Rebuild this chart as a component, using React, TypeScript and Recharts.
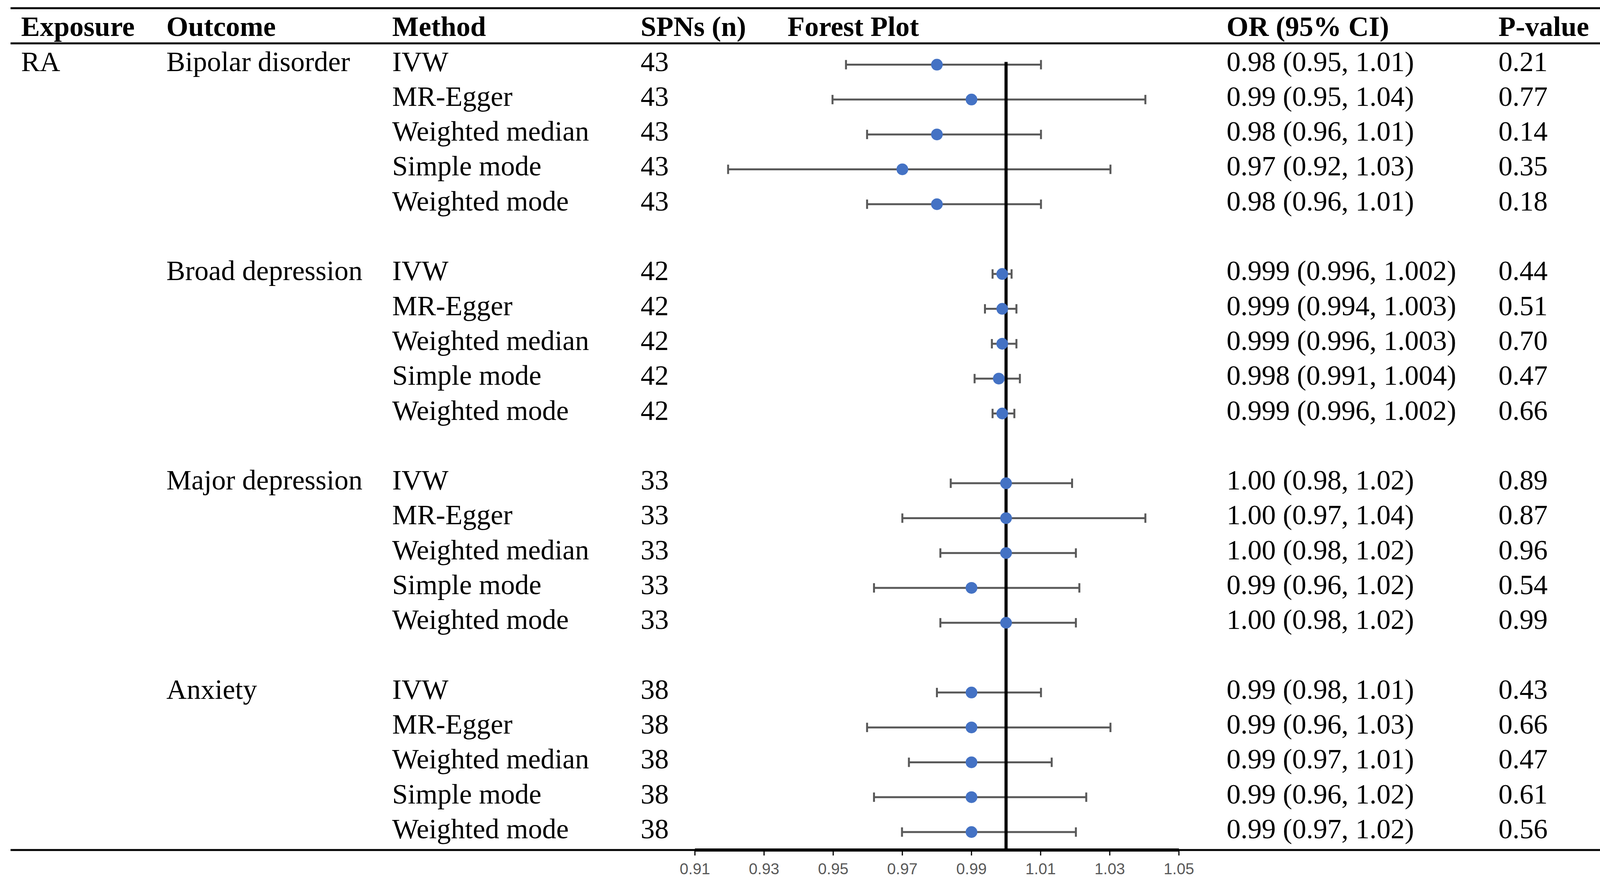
import React from 'react';
import {
  ScatterChart, Scatter, XAxis, YAxis, ErrorBar, ReferenceLine,
} from 'recharts';

const W = 4171;
const H = 2263;
const SERIF = "'Times New Roman', 'Liberation Serif', serif";

const exposure = 'RA';
const outcomes = ['Bipolar disorder', 'Broad depression', 'Major depression', 'Anxiety'];
const methods = ['IVW', 'MR-Egger', 'Weighted median', 'Simple mode', 'Weighted mode'];
const snps = [43, 42, 33, 38];

// point estimates and CI bounds as drawn in the forest plot
const orPoint = [
  [0.98, 0.99, 0.98, 0.97, 0.98],
  [0.9989, 0.9989, 0.9989, 0.9979, 0.9989],
  [1.0, 1.0, 1.0, 0.99, 1.0],
  [0.99, 0.99, 0.99, 0.99, 0.99],
];
const ciLow = [
  [0.9537, 0.9498, 0.9598, 0.9196, 0.9598],
  [0.9961, 0.9939, 0.9959, 0.9909, 0.9961],
  [0.984, 0.970, 0.981, 0.9618, 0.981],
  [0.98, 0.9598, 0.9719, 0.9618, 0.9699],
];
const ciHigh = [
  [1.0101, 1.0403, 1.0101, 1.0302, 1.0101],
  [1.0016, 1.0030, 1.0030, 1.0040, 1.0024],
  [1.0191, 1.0403, 1.0202, 1.0212, 1.0202],
  [1.0101, 1.0302, 1.0132, 1.0232, 1.0202],
];

const orText = [
  ['0.98 (0.95, 1.01)', '0.99 (0.95, 1.04)', '0.98 (0.96, 1.01)', '0.97 (0.92, 1.03)', '0.98 (0.96, 1.01)'],
  ['0.999 (0.996, 1.002)', '0.999 (0.994, 1.003)', '0.999 (0.996, 1.003)', '0.998 (0.991, 1.004)', '0.999 (0.996, 1.002)'],
  ['1.00 (0.98, 1.02)', '1.00 (0.97, 1.04)', '1.00 (0.98, 1.02)', '0.99 (0.96, 1.02)', '1.00 (0.98, 1.02)'],
  ['0.99 (0.98, 1.01)', '0.99 (0.96, 1.03)', '0.99 (0.97, 1.01)', '0.99 (0.96, 1.02)', '0.99 (0.97, 1.02)'],
];
const pValues = [
  ['0.21', '0.77', '0.14', '0.35', '0.18'],
  ['0.44', '0.51', '0.70', '0.47', '0.66'],
  ['0.89', '0.87', '0.96', '0.54', '0.99'],
  ['0.43', '0.66', '0.47', '0.61', '0.56'],
];

const xTicks = [0.91, 0.93, 0.95, 0.97, 0.99, 1.01, 1.03, 1.05];
const headers = ['Exposure', 'Outcome', 'Method', 'SPNs (n)', 'Forest Plot', 'OR (95% CI)', 'P-value'];

// column x positions
const COL = { exp: 54, out: 426, meth: 1004, snp: 1640, forest: 2016, or: 3140, p: 3836 };
const headerX = [COL.exp, COL.out, COL.meth, COL.snp, COL.forest, COL.or, COL.p];

const rows: any[] = [];
outcomes.forEach((o, g) => {
  methods.forEach((m, k) => {
    rows.push({
      row: g * 6 + k,
      g, k,
      or: orPoint[g][k],
      err: [orPoint[g][k] - ciLow[g][k], ciHigh[g][k] - orPoint[g][k]],
    });
  });
});
const rowTicks = rows.map(r => r.row);
const byRow: Record<number, any> = {};
rows.forEach(r => { byRow[r.row] = r; });

function RowTick(props: any) {
  const { y, payload } = props;
  const r = byRow[payload.value];
  if (!r) return <g />;
  const ty = y + 16;
  const t = { fontSize: 72, fontFamily: SERIF, fill: '#000' };
  return (
    <g>
      {r.g === 0 && r.k === 0 && <text x={COL.exp} y={ty} {...t}>{exposure}</text>}
      {r.k === 0 && <text x={COL.out} y={ty} {...t}>{outcomes[r.g]}</text>}
      <text x={COL.meth} y={ty} {...t}>{methods[r.k]}</text>
      <text x={COL.snp} y={ty} {...t}>{snps[r.g]}</text>
      <text x={COL.or} y={ty} {...t}>{orText[r.g][r.k]}</text>
      <text x={COL.p} y={ty} {...t}>{pValues[r.g][r.k]}</text>
    </g>
  );
}

export default function App() {
  return (
    <div style={{ position: 'absolute', left: 0, top: 0, width: W, height: H, background: '#fff' }}>
      <ScatterChart width={W} height={H} margin={{ top: 112, right: 1153, bottom: 0, left: 0 }}>
        <XAxis
          type="number"
          dataKey="or"
          domain={[0.91, 1.05]}
          ticks={xTicks}
          interval={0}
          allowDataOverflow
          height={87}
          tickFormatter={(v: number) => v.toFixed(2)}
          axisLine={{ stroke: '#000', strokeWidth: 8 }}
          tickLine={{ stroke: '#000', strokeWidth: 3 }}
          tickSize={14}
          tickMargin={20}
          tick={{ fontSize: 40, fill: '#595959', fontFamily: "'Liberation Sans', Arial, sans-serif" }}
        />
        <YAxis
          type="number"
          dataKey="row"
          domain={[-0.6, 22.515]}
          reversed
          ticks={rowTicks}
          interval={0}
          width={1779}
          axisLine={false}
          tickLine={false}
          tick={(p: any) => <RowTick {...p} />}
        />
        <Scatter data={rows} isAnimationActive={false} shape={() => <g />}>
          <ErrorBar dataKey="err" direction="x" width={12} stroke="#595959" strokeWidth={5} isAnimationActive={false} />
        </Scatter>
        <ReferenceLine
          segment={[{ x: 1, y: -0.08 }, { x: 1, y: 22.515 }]}
          stroke="#000"
          strokeWidth={8}
        />
        <Scatter
          data={rows}
          isAnimationActive={false}
          shape={(p: any) => <circle cx={p.cx} cy={p.cy} r={15} fill="#4472C4" />}
        />
      </ScatterChart>
      <svg width={W} height={H} style={{ position: 'absolute', left: 0, top: 0, pointerEvents: 'none' }}>
        <line x1={27} x2={4150} y1={21} y2={21} stroke="#000" strokeWidth={5} />
        <line x1={27} x2={4150} y1={111} y2={111} stroke="#000" strokeWidth={5} />
        <line x1={27} x2={4150} y1={2176} y2={2176} stroke="#000" strokeWidth={5} />
        {headers.map((h, i) => (
          <text key={h} x={headerX[i]} y={92} fontSize={72} fontWeight="bold" fontFamily={SERIF} fill="#000">{h}</text>
        ))}
      </svg>
    </div>
  );
}
